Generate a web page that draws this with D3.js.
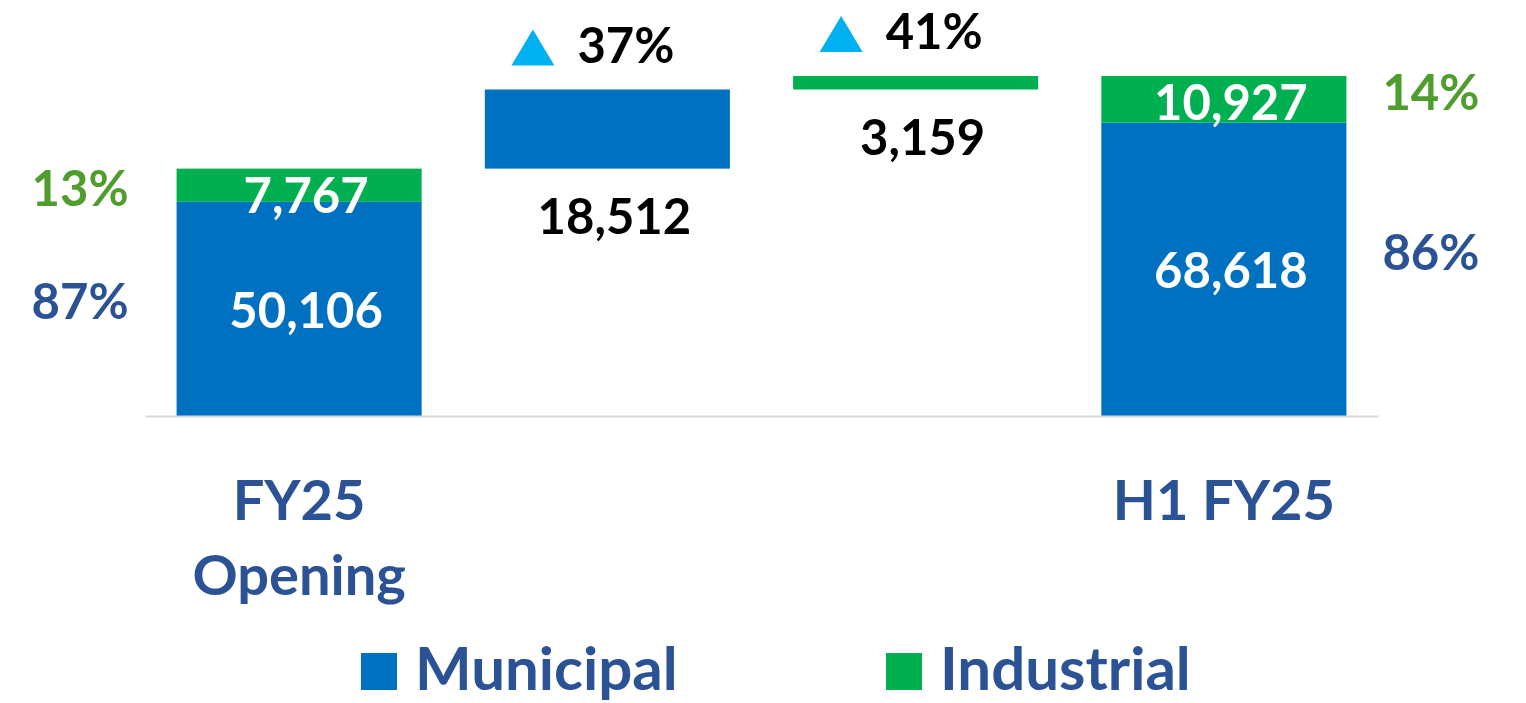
<!DOCTYPE html>
<html>
<head>
<meta charset="utf-8">
<script src="https://cdn.jsdelivr.net/npm/d3@7"></script>
<style>
  body { margin: 0; background: #fff; }
  svg text { font-family: Lato, "Open Sans", sans-serif; font-weight: bold; }
</style>
</head>
<body>
<svg id="chart" width="1526" height="703"></svg>
<script>
// steps of the waterfall
const steps = ['open', 'dMun', 'dInd', 'close'];
const catLabels = [['FY25', 'Opening'], [], [], ['H1 FY25']];

// volumes
const opening = { municipal: 50106, industrial: 7767 };
const delta   = { municipal: 18512, industrial: 3159 };
const closing = { municipal: 68618, industrial: 10927 };

// growth and mix labels
const growthPct = [37, 41];
const openShare = [87, 13];
const closeShare = [86, 14];

const BLUE = '#0070c0', GREEN = '#00b050', DARK = '#2b5294', LGREEN = '#4f9d2d', CYAN = '#00b0f0';
const fmt = d3.format(',');

const svg = d3.select('#chart');
const x = d3.scaleBand().domain(steps).range([145, 1378]).paddingInner(0.205).paddingOuter(0.1025);
const y = d3.scaleLinear().domain([0, closing.municipal + closing.industrial]).range([416, 76]);

// build rect list
const openTotal = opening.municipal + opening.industrial;
const rects = [
  { step: 'open', y0: 0, y1: opening.municipal, c: BLUE, label: opening.municipal, kind: 'mun' },
  { step: 'open', y0: opening.municipal, y1: openTotal, c: GREEN, label: opening.industrial, kind: 'ind' },
  { step: 'dMun', y0: openTotal, y1: openTotal + delta.municipal, c: BLUE, label: delta.municipal, kind: 'dlt', pct: growthPct[0] },
  { step: 'dInd', y0: openTotal + delta.municipal, y1: openTotal + delta.municipal + delta.industrial, c: GREEN, label: delta.industrial, kind: 'dlt', pct: growthPct[1] },
  { step: 'close', y0: 0, y1: closing.municipal, c: BLUE, label: closing.municipal, kind: 'mun' },
  { step: 'close', y0: closing.municipal, y1: closing.municipal + closing.industrial, c: GREEN, label: closing.industrial, kind: 'ind' }
];

svg.append('g').selectAll('rect').data(rects).enter().append('rect')
  .attr('x', d => x(d.step))
  .attr('width', x.bandwidth())
  .attr('y', d => y(d.y1))
  .attr('height', d => y(d.y0) - y(d.y1))
  .attr('fill', d => d.c);

// axis line only
const axis = svg.append('g').attr('transform', 'translate(0,416)')
  .call(d3.axisBottom(x).tickSize(0).tickFormat(''));
axis.select('.domain').attr('stroke', '#d9d9d9').attr('stroke-width', 2);

const cx = s => x(s) + x.bandwidth() / 2;

// values in / around bars
svg.append('g').selectAll('text').data(rects).enter().append('text')
  .attr('x', d => cx(d.step) + 7)
  .attr('y', d => {
    if (d.kind === 'mun') return (y(d.y0) + y(d.y1)) / 2 + 19;
    if (d.kind === 'ind') return y(d.y1) + 44;
    return y(d.y0) + 65;
  })
  .attr('text-anchor', 'middle')
  .attr('font-size', 49)
  .attr('fill', d => d.kind === 'dlt' ? '#000' : '#fff')
  .text(d => fmt(d.label));

// growth markers
const dl = rects.filter(d => d.kind === 'dlt');
const gm = svg.append('g').selectAll('g').data(dl).enter().append('g')
  .attr('transform', d => `translate(${cx(d.step)},${y(d.y1)})`);
gm.append('path')
  .attr('d', 'M-96,-24 L-53,-24 L-74.5,-60 Z')
  .attr('fill', CYAN);
gm.append('text')
  .attr('x', -30).attr('y', -27)
  .attr('font-size', 49).attr('fill', '#000')
  .text(d => d.pct + '%');

// mix percentages
const xl = x('open'), xr = x('close') + x.bandwidth();
svg.append('text').attr('x', xl - 48).attr('y', (y(0) + y(opening.municipal)) / 2 + 10)
  .attr('text-anchor', 'end').attr('font-size', 49).attr('fill', DARK).text(openShare[0] + '%');
svg.append('text').attr('x', xl - 48).attr('y', y(openTotal) + 37)
  .attr('text-anchor', 'end').attr('font-size', 49).attr('fill', LGREEN).text(openShare[1] + '%');
svg.append('text').attr('x', xr + 36).attr('y', (y(0) + y(closing.municipal)) / 2 + 1)
  .attr('font-size', 49).attr('fill', DARK).text(closeShare[0] + '%');
svg.append('text').attr('x', xr + 36).attr('y', y(closing.municipal + closing.industrial) + 34)
  .attr('font-size', 49).attr('fill', LGREEN).text(closeShare[1] + '%');

// category labels
const cl = svg.append('g').selectAll('text').data(steps).enter().append('text')
  .attr('x', d => cx(d))
  .attr('y', 520)
  .attr('text-anchor', 'middle')
  .attr('font-size', 56)
  .attr('fill', DARK);
cl.selectAll('tspan').data((d, i) => catLabels[i]).enter().append('tspan')
  .attr('x', function() { return this.parentNode.getAttribute('x'); })
  .attr('dy', (d, i) => i ? 75 : 0)
  .text(d => d);

// legend
const legend = [{ name: 'Municipal', c: BLUE, x: 361 }, { name: 'Industrial', c: GREEN, x: 886 }];
const lg = svg.append('g').selectAll('g').data(legend).enter().append('g')
  .attr('transform', d => `translate(${d.x},653)`);
lg.append('rect').attr('width', 36).attr('height', 37).attr('fill', d => d.c);
lg.append('text').attr('x', 54).attr('y', 37)
  .attr('font-size', 60).attr('fill', DARK).text(d => d.name);
</script>
</body>
</html>
